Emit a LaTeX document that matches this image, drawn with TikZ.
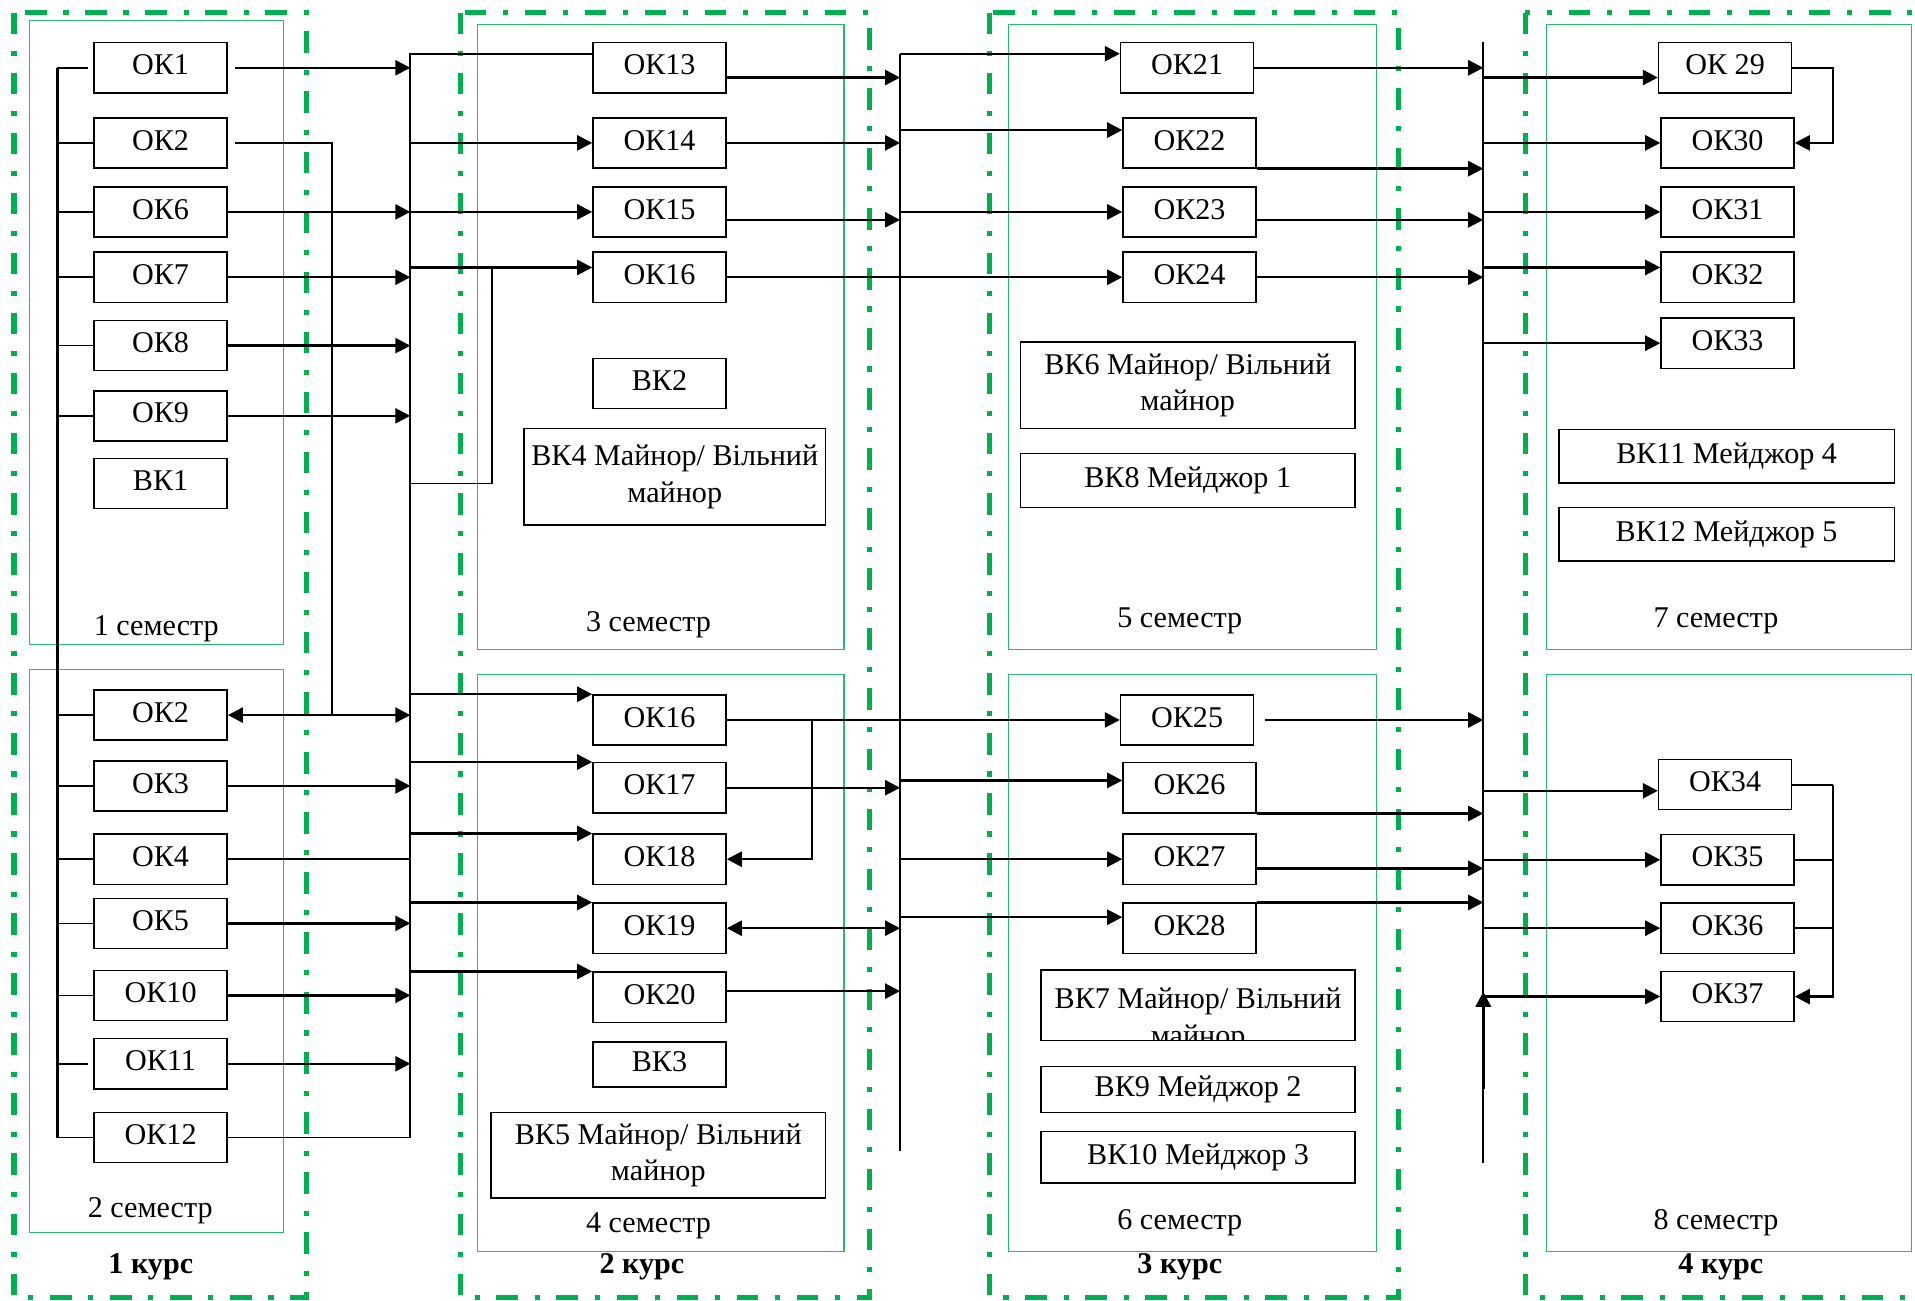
\documentclass[tikz,border=0pt]{standalone}
\usepackage{fontspec}
\setmainfont{Liberation Serif}
\usetikzlibrary{arrows.meta,calc}
\definecolor{kursgreen}{RGB}{0,176,80}
\tikzset{
  okbox/.style={draw, line width=0.7pt, minimum width=65.4pt, minimum height=24.6pt,
    inner sep=0pt, align=center, text height=10pt, text depth=3pt,
    font=\fontsize{14.8}{18}\selectfont},
  vkbox/.style={draw, line width=0.7pt, inner sep=0pt, align=center,
    font=\fontsize{14.8}{18}\selectfont},
  kursframe/.style={draw=kursgreen, line width=2.6pt,
    dash pattern=on 10.6pt off 8.2pt on 2.5pt off 8.2pt},
  semframe/.style={draw=kursgreen!85, line width=0.6pt},
  semlabel/.style={anchor=base, font=\fontsize{14.8}{18}\selectfont},
  kurslabel/.style={anchor=base, font=\fontsize{14.8}{18}\selectfont\bfseries},
  arr/.style={-{Triangle[length=7.4pt, width=7.4pt]}, line width=1.2pt},
  biarr/.style={{Triangle[length=7.4pt, width=7.4pt]}-{Triangle[length=7.4pt, width=7.4pt]}, line width=1.2pt},
  conn/.style={line width=0.8pt},
  bus/.style={line width=1.1pt},
}

\begin{document}
\begin{tikzpicture}[x=0.6pt, y=-0.6pt]
  \useasboundingbox (0,0) rectangle (1568,1065);

  % Courses
  \draw[kursframe] (11.5,10.3) rectangle (251,1062.5);
  \draw[kursframe] (377,10.3) rectangle (712,1062.5);
  \draw[kursframe] (810,10.3) rectangle (1145,1062.5);
  \draw[kursframe] (1249,10.3) rectangle (1600,1062.5);

  % Semesters
  \draw[semframe] (24,17) rectangle (232,528);
  \draw[semframe] (24,548) rectangle (232,1009);
  \draw[semframe] (391,20) rectangle (691,532);
  \draw[semframe] (391,552) rectangle (691,1025);
  \draw[semframe] (826,20) rectangle (1127,532);
  \draw[semframe] (826,552) rectangle (1127,1025);
  \draw[semframe] (1266,20) rectangle (1565,532);
  \draw[semframe] (1266,552) rectangle (1565,1025);

  \node[semlabel] (sem1) at (128,520) {1 семестр};
  \node[semlabel] (sem2) at (123,997) {2 семестр};
  \node[semlabel] (sem3) at (531,517) {3 семестр};
  \node[semlabel] (sem4) at (531,1009) {4 семестр};
  \node[semlabel] (sem5) at (966,513.5) {5 семестр};
  \node[semlabel] (sem6) at (966,1007) {6 семестр};
  \node[semlabel] (sem7) at (1405,513.5) {7 семестр};
  \node[semlabel] (sem8) at (1405,1007) {8 семестр};
  \node[kurslabel] (kurs1) at (123.5,1043) {1 курс};
  \node[kurslabel] (kurs2) at (525.6,1043) {2 курс};
  \node[kurslabel] (kurs3) at (966,1043) {3 курс};
  \node[kurslabel] (kurs4) at (1409,1043) {4 курс};

  % 1 course
  \node[okbox] (ok1) at (131.5,55.5) {ОК1};
  \node[okbox] (ok2) at (131.5,117) {ОК2};
  \node[okbox] (ok6) at (131.5,173.5) {ОК6};
  \node[okbox] (ok7) at (131.5,227) {ОК7};
  \node[okbox] (ok8) at (131.5,283) {ОК8};
  \node[okbox] (ok9) at (131.5,340.5) {ОК9};
  \node[okbox] (vk1) at (131.5,396) {ВК1};
  \node[okbox] (ok2b) at (131.5,585.5) {ОК2};
  \node[okbox] (ok3) at (131.5,643.5) {ОК3};
  \node[okbox] (ok4) at (131.5,703.5) {ОК4};
  \node[okbox] (ok5) at (131.5,756) {ОК5};
  \node[okbox] (ok10) at (131.5,815) {ОК10};
  \node[okbox] (ok11) at (131.5,871) {ОК11};
  \node[okbox] (ok12) at (131.5,931.5) {ОК12};

  % 2 course
  \node[okbox] (ok13) at (540,55.5) {ОК13};
  \node[okbox] (ok14) at (540,117) {ОК14};
  \node[okbox] (ok15) at (540,173.5) {ОК15};
  \node[okbox] (ok16) at (540,227) {ОК16};
  \node[okbox] (vk2) at (540,314) {ВК2};
  \node[vkbox, minimum width=148.2pt, minimum height=47.4pt] (vk4) at (552.5,390.5)
    {ВК4 Майнор/ Вільний\\майнор};
  \node[okbox] (ok16b) at (540,589.5) {ОК16};
  \node[okbox] (ok17) at (540,645) {ОК17};
  \node[okbox] (ok18) at (540,703.5) {ОК18};
  \node[okbox] (ok19) at (540,760) {ОК19};
  \node[okbox] (ok20) at (540,816.5) {ОК20};
  \node[okbox, minimum height=22.2pt] (vk3) at (540,871.5) {ВК3};
  \node[vkbox, minimum width=164.4pt, minimum height=42pt] (vk5) at (539,946)
    {ВК5 Майнор/ Вільний\\майнор};

  % 3 course
  \node[okbox] (ok21) at (972,55.5) {ОК21};
  \node[okbox] (ok22) at (974,117) {ОК22};
  \node[okbox] (ok23) at (974,173.5) {ОК23};
  \node[okbox] (ok24) at (974,227) {ОК24};
  \node[vkbox, minimum width=164.4pt, minimum height=42.6pt] (vk6) at (972.5,315.5)
    {ВК6 Майнор/ Вільний\\майнор};
  \node[vkbox, minimum width=164.4pt, minimum height=26.4pt] (vk8) at (972.5,393.5)
    {ВК8 Мейджор 1};
  \node[okbox] (ok25) at (972,589.5) {ОК25};
  \node[okbox] (ok26) at (974,645) {ОК26};
  \node[okbox] (ok27) at (974,703.5) {ОК27};
  \node[okbox] (ok28) at (974,760) {ОК28};
  \node[vkbox, minimum width=154.2pt, minimum height=34.5pt] (vk7) at (981,823) {};
  \begin{scope}
    \clip (vk7.north west) rectangle (vk7.south east);
    \node[vkbox, draw=none] (vk7txt) at (981,835) {ВК7 Майнор/ Вільний\\майнор};
  \end{scope}
  \node[vkbox, minimum width=154.2pt, minimum height=22.8pt] (vk9) at (981,892)
    {ВК9 Мейджор 2};
  \node[vkbox, minimum width=154.2pt, minimum height=25.2pt] (vk10) at (981,947.5)
    {ВК10 Мейджор 3};

  % 4 course
  \node[okbox] (ok29) at (1412.5,55.5) {ОК 29};
  \node[okbox] (ok30) at (1414.5,117) {ОК30};
  \node[okbox] (ok31) at (1414.5,173.5) {ОК31};
  \node[okbox] (ok32) at (1414.5,227) {ОК32};
  \node[okbox] (ok33) at (1414.5,281) {ОК33};
  \node[vkbox, minimum width=164.7pt, minimum height=26.4pt] (vk11) at (1413.75,373.5)
    {ВК11 Мейджор 4};
  \node[vkbox, minimum width=164.7pt, minimum height=26.4pt] (vk12) at (1413.75,437.5)
    {ВК12 Мейджор 5};
  \node[okbox] (ok34) at (1412.5,642.5) {ОК34};
  \node[okbox] (ok35) at (1414.5,704) {ОК35};
  \node[okbox] (ok36) at (1414.5,760) {ОК36};
  \node[okbox] (ok37) at (1414.5,816) {ОК37};

  % Buses
  \coordinate (b1) at (47,0);
  \coordinate (b2) at (336,0);
  \coordinate (b3) at (737,0);
  \coordinate (b4) at (1214.5,0);
  \coordinate (j2) at (272,0);
  \coordinate (j3) at (402.6,0);
  \coordinate (j4) at (665,0);
  \coordinate (j5) at (1501,0);
  \coordinate (b3bot) at (737,942.5);
  \coordinate (b4top) at (1214.5,34);
  \coordinate (b4bot) at (1214.5,952);
  \coordinate (b4up) at (1214.5,892);

  \draw[bus] (ok1.west -| b1) -- (ok12.west -| b1);
  \draw[bus] (b4top) -- (b4bot);

  % 1 course stubs
  \draw[conn] (ok1.west -| b1) -- ($(ok1.west)+(-4,0)$);
  \draw[conn] (ok2.west -| b1) -- (ok2.west);
  \draw[conn] (ok6.west -| b1) -- (ok6.west);
  \draw[conn] (ok7.west -| b1) -- (ok7.west);
  \draw[conn] (ok8.west -| b1) -- (ok8.west);
  \draw[conn] (ok9.west -| b1) -- (ok9.west);
  \draw[conn] (ok2b.west -| b1) -- (ok2b.west);
  \draw[conn] (ok3.west -| b1) -- (ok3.west);
  \draw[conn] (ok4.west -| b1) -- (ok4.west);
  \draw[conn] (ok5.west -| b1) -- (ok5.west);
  \draw[conn] (ok10.west -| b1) -- (ok10.west);
  \draw[conn] (ok11.west -| b1) -- ($(ok11.west)+(-4,0)$);
  \draw[conn] (ok12.west -| b1) -- (ok12.west);

  % 1 course -> bus
  \draw[arr] ($(ok1.east)+(6,0)$) -- (ok1.east -| b2);
  \draw[conn] ($(ok2.east)+(6,0)$) -- (ok2.east -| j2) -- (j2 |- ok2b.east);
  \draw[biarr] (ok2b.east) -- (ok2b.east -| b2);
  \draw[arr] (ok6.east) -- (ok6.east -| b2);
  \draw[arr] (ok7.east) -- (ok7.east -| b2);
  \draw[arr] (ok8.east) -- (ok8.east -| b2);
  \draw[arr] (ok9.east) -- (ok9.east -| b2);
  \draw[arr] (ok3.east) -- (ok3.east -| b2);
  \draw[conn] (ok4.east) -- (ok4.east -| b2);
  \draw[arr] (ok5.east) -- (ok5.east -| b2);
  \draw[arr] (ok10.east) -- (ok10.east -| b2);
  \draw[arr] (ok11.east) -- (ok11.east -| b2);
  \draw[conn] (ok12.east) -- (ok12.east -| b2);

  % bus -> 2 course
  \coordinate (k13) at ($(ok13.west)+(0,-11.5)$);
  \draw[bus] (k13) -| (ok12.east -| b2);
  \draw[arr] (ok14.west -| b2) -- (ok14.west);
  \draw[arr] (ok15.west -| b2) -- (ok15.west);
  \coordinate (k16) at ($(ok16.west)+(0,-8)$);
  \draw[arr] (k16 -| b2) -- (k16);
  \draw[conn] (vk1.east -| b2) -| (j3 |- k16);
  \draw[arr] (ok16b.north west -| b2) -- (ok16b.north west);
  \draw[arr] (ok17.north west -| b2) -- (ok17.north west);
  \draw[arr] (ok18.north west -| b2) -- (ok18.north west);
  \draw[arr] (ok19.north west -| b2) -- (ok19.north west);
  \draw[arr] (ok20.north west -| b2) -- (ok20.north west);

  % 2 course -> bus
  \coordinate (k21) at ($(ok21.west)+(0,-11.5)$);
  \draw[bus] (k21 -| b3) -- (b3bot);
  \coordinate (k13e) at ($(ok13.east)+(0,8)$);
  \draw[arr] (k13e) -- (k13e -| b3);
  \draw[arr] (ok14.east) -- (ok14.east -| b3);
  \coordinate (k15e) at ($(ok15.east)+(0,6.5)$);
  \draw[arr] (k15e) -- (k15e -| b3);
  \draw[arr] (ok16.east) -- (ok24.west);
  \draw[arr] (ok16b.east) -- (ok25.west);
  \draw[arr] (ok16b.east -| j4) |- (ok18.east);
  \draw[arr] (ok17.east) -- (ok17.east -| b3);
  \draw[biarr] (ok19.east) -- (ok19.east -| b3);
  \draw[arr] ($(ok20.east)+(0,-5)$) -- ($(ok20.east -| b3)+(0,-5)$);

  % bus -> 3 course
  \draw[arr] (k21 -| b3) -- (k21);
  \coordinate (k22) at ($(ok22.west)+(0,-10.5)$);
  \draw[arr] (k22 -| b3) -- (k22);
  \draw[arr] (ok23.west -| b3) -- (ok23.west);
  \coordinate (k26) at ($(ok26.west)+(0,-6)$);
  \draw[arr] (k26 -| b3) -- (k26);
  \draw[arr] (ok27.west -| b3) -- (ok27.west);
  \coordinate (k28) at ($(ok28.west)+(0,-9)$);
  \draw[arr] (k28 -| b3) -- (k28);

  % 3 course -> bus
  \draw[arr] (ok21.east) -- (ok21.east -| b4);
  \draw[arr] (ok22.south east) -- (ok22.south east -| b4);
  \coordinate (k23e) at ($(ok23.east)+(0,6.5)$);
  \draw[arr] (k23e) -- (k23e -| b4);
  \draw[arr] (ok24.east) -- (ok24.east -| b4);
  \draw[arr] ($(ok25.east)+(9,0)$) -- (ok25.east -| b4);
  \draw[arr] (ok26.south east) -- (ok26.south east -| b4);
  \coordinate (k27e) at ($(ok27.east)+(0,7.5)$);
  \draw[arr] (k27e) -- (k27e -| b4);
  \draw[arr] (ok28.north east) -- (ok28.north east -| b4);

  % bus -> 4 course
  \coordinate (k29) at ($(ok29.west)+(0,8)$);
  \draw[arr] (k29 -| b4) -- (k29);
  \draw[arr] (ok30.west -| b4) -- (ok30.west);
  \draw[arr] (ok31.west -| b4) -- (ok31.west);
  \coordinate (k32) at ($(ok32.west)+(0,-8)$);
  \draw[arr] (k32 -| b4) -- (k32);
  \draw[arr] (ok33.west -| b4) -- (ok33.west);
  \coordinate (k34) at ($(ok34.west)+(0,5)$);
  \draw[arr] (k34 -| b4) -- (k34);
  \draw[arr] (ok35.west -| b4) -- (ok35.west);
  \draw[arr] (ok36.west -| b4) -- (ok36.west);
  \draw[arr] (ok37.west -| b4) -- (ok37.west);
  \draw[arr, line width=1.6pt] (b4up) -- ($(ok37.west -| b4)+(0,-4)$);

  % inside 4 course
  \draw[arr] (ok29.east) -- (ok29.east -| j5) |- (ok30.east);
  \draw[conn] (ok34.east) -- (ok34.east -| j5);
  \draw[conn] (ok35.east) -- (ok35.east -| j5);
  \draw[conn] (ok36.east) -- (ok36.east -| j5);
  \draw[arr] (ok34.east -| j5) |- (ok37.east);
\end{tikzpicture}
\end{document}
